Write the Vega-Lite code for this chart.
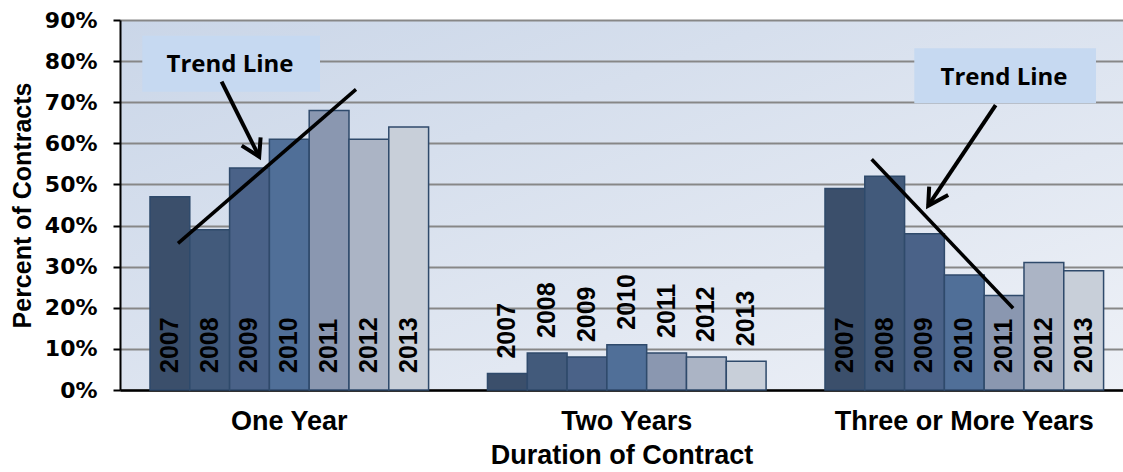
{
  "$schema": "https://vega.github.io/schema/vega-lite/v6.json",
  "width": 1003,
  "height": 370,
  "autosize": "none",
  "padding": {"left": 120, "top": 20, "right": 0, "bottom": 82},
  "background": "white",
  "config": {
    "view": {
      "stroke": null,
      "fill": {"gradient": "linear", "x1": 0, "y1": 0, "x2": 1, "y2": 1, "stops": [{"offset": 0, "color": "#cad6e8"}, {"offset": 1, "color": "#eef1f7"}]}
    },
    "font": "Liberation Sans"
  },
  "datasets": {
    "bars": [
      {"duration": "One Year", "year": 2007, "pct": 0.47},
      {"duration": "One Year", "year": 2008, "pct": 0.39},
      {"duration": "One Year", "year": 2009, "pct": 0.54},
      {"duration": "One Year", "year": 2010, "pct": 0.61},
      {"duration": "One Year", "year": 2011, "pct": 0.68},
      {"duration": "One Year", "year": 2012, "pct": 0.61},
      {"duration": "One Year", "year": 2013, "pct": 0.64},
      {"duration": "Two Years", "year": 2007, "pct": 0.04},
      {"duration": "Two Years", "year": 2008, "pct": 0.09},
      {"duration": "Two Years", "year": 2009, "pct": 0.08},
      {"duration": "Two Years", "year": 2010, "pct": 0.11},
      {"duration": "Two Years", "year": 2011, "pct": 0.09},
      {"duration": "Two Years", "year": 2012, "pct": 0.08},
      {"duration": "Two Years", "year": 2013, "pct": 0.07},
      {"duration": "Three or More Years", "year": 2007, "pct": 0.49},
      {"duration": "Three or More Years", "year": 2008, "pct": 0.52},
      {"duration": "Three or More Years", "year": 2009, "pct": 0.38},
      {"duration": "Three or More Years", "year": 2010, "pct": 0.28},
      {"duration": "Three or More Years", "year": 2011, "pct": 0.23},
      {"duration": "Three or More Years", "year": 2012, "pct": 0.31},
      {"duration": "Three or More Years", "year": 2013, "pct": 0.29}
    ],
    "boxes": [
      {"box": "left", "u1": 0.0661, "u2": 0.5926, "v1": 0.8618, "v2": 0.7256, "tu": 0.3259, "tv": 0.79, "label": "Trend Line"},
      {"box": "right", "u1": 2.3535, "u2": 2.8919, "v1": 0.8314, "v2": 0.6976, "tu": 2.6193, "tv": 0.76, "label": "Trend Line"}
    ],
    "lines": [
      {"seg": "trend1", "ord": 1, "u": 0.1719, "v": 0.3566, "w": 3.5},
      {"seg": "trend1", "ord": 2, "u": 0.6993, "v": 0.7314, "w": 3.5},
      {"seg": "trend2", "ord": 1, "u": 2.2272, "v": 0.5612, "w": 3.5},
      {"seg": "trend2", "ord": 2, "u": 2.6464, "v": 0.1987, "w": 3.5},
      {"seg": "arrow1", "ord": 1, "u": 0.3010, "v": 0.7500, "w": 4},
      {"seg": "arrow1", "ord": 2, "u": 0.4124, "v": 0.5675, "w": 4},
      {"seg": "head1", "ord": 1, "u": 0.3606, "v": 0.5944, "w": 4},
      {"seg": "head1", "ord": 2, "u": 0.4124, "v": 0.5675, "w": 4},
      {"seg": "head1", "ord": 3, "u": 0.4166, "v": 0.6147, "w": 4},
      {"seg": "arrow2", "ord": 1, "u": 2.5946, "v": 0.6932, "w": 4},
      {"seg": "arrow2", "ord": 2, "u": 2.3947, "v": 0.4483, "w": 4},
      {"seg": "head2", "ord": 1, "u": 2.3976, "v": 0.4945, "w": 4},
      {"seg": "head2", "ord": 2, "u": 2.3947, "v": 0.4483, "w": 4},
      {"seg": "head2", "ord": 3, "u": 2.4539, "v": 0.4743, "w": 4}
    ]
  },
  "layer": [
    {
      "data": {"name": "bars"},
      "encoding": {
        "x": {
          "field": "duration", "type": "nominal", "sort": null,
          "scale": {"domain": ["One Year", "Two Years", "Three or More Years"], "paddingInner": 0.1745, "paddingOuter": 0.0732, "align": 0.607},
          "axis": {
            "title": "Duration of Contract", "labelAngle": 0, "labelLimit": 0,
            "domainColor": "#000000", "domainWidth": 2.5, "ticks": false,
            "labelFont": "Liberation Sans", "labelFontWeight": "bold", "labelFontSize": 27, "labelColor": "#000000", "labelPadding": 18,
            "titleFont": "Liberation Sans", "titleFontWeight": "bold", "titleFontSize": 27, "titleColor": "#000000", "titlePadding": 8
          }
        },
        "xOffset": {"field": "year", "type": "ordinal", "scale": {"paddingInner": 0, "paddingOuter": 0}},
        "y": {
          "field": "pct", "type": "quantitative",
          "scale": {"domain": [0, 0.9], "nice": false},
          "axis": {
            "title": "Percent of Contracts", "format": ".0%", "values": [0, 0.1, 0.2, 0.3, 0.4, 0.5, 0.6, 0.7, 0.8, 0.9],
            "domainColor": "#000000", "domainWidth": 2, "tickColor": "#000000", "tickWidth": 2, "tickSize": 7,
            "gridColor": "#878787", "gridWidth": 2,
            "labelFont": "DejaVu Sans", "labelFontWeight": "bold", "labelFontSize": 22, "labelColor": "#000000", "labelPadding": 16,
            "titleFont": "Liberation Sans", "titleFontWeight": "bold", "titleFontSize": 25, "titleColor": "#000000", "titlePadding": 9
          }
        }
      },
      "layer": [
        {
          "mark": {"type": "bar", "stroke": "#2f4a6b", "strokeWidth": 1.5},
          "encoding": {
            "color": {"field": "year", "type": "ordinal", "legend": null,
              "scale": {"range": ["#3b4f6b", "#425a7b", "#4a6288", "#506f98", "#8a97b0", "#abb4c5", "#c8cfd9"]}}
          }
        },
        {
          "transform": [{"filter": "datum.duration !== 'Two Years'"}],
          "mark": {"type": "text", "angle": 270, "align": "left", "baseline": "middle", "dx": 17, "font": "Liberation Sans", "fontWeight": "bold", "fontSize": 25, "color": "#000000"},
          "encoding": {
            "y": {"datum": 0, "type": "quantitative"},
            "text": {"field": "year", "type": "nominal"}
          }
        },
        {
          "transform": [{"filter": "datum.duration === 'Two Years'"}],
          "mark": {"type": "text", "angle": 270, "align": "left", "baseline": "middle", "dx": 15, "font": "Liberation Sans", "fontWeight": "bold", "fontSize": 25, "color": "#000000"},
          "encoding": {
            "text": {"field": "year", "type": "nominal"}
          }
        }
      ]
    },
    {
      "encoding": {
        "x": {"type": "quantitative", "scale": {"domain": [0, 2.9719], "nice": false, "zero": false}, "axis": null}
      },
      "layer": [
        {
          "data": {"name": "boxes"},
          "mark": {"type": "rect", "fill": "#c6d9f1", "stroke": null},
          "encoding": {
            "x": {"field": "u1", "type": "quantitative"},
            "x2": {"field": "u2"},
            "y": {"field": "v1", "type": "quantitative"},
            "y2": {"field": "v2"}
          }
        },
        {
          "data": {"name": "boxes"},
          "mark": {"type": "text", "font": "Open Sans", "fontWeight": "bold", "fontSize": 24, "color": "#000000", "align": "center", "baseline": "middle"},
          "encoding": {
            "x": {"field": "tu", "type": "quantitative"},
            "y": {"field": "tv", "type": "quantitative"},
            "text": {"field": "label"}
          }
        },
        {
          "data": {"name": "lines"},
          "mark": {"type": "line", "color": "#000000", "strokeCap": "butt", "strokeJoin": "miter"},
          "encoding": {
            "x": {"field": "u", "type": "quantitative"},
            "y": {"field": "v", "type": "quantitative"},
            "detail": {"field": "seg"},
            "order": {"field": "ord"},
            "strokeWidth": {"field": "w", "type": "quantitative", "scale": null, "legend": null}
          }
        }
      ]
    }
  ],
  "resolve": {"scale": {"x": "independent"}}
}
